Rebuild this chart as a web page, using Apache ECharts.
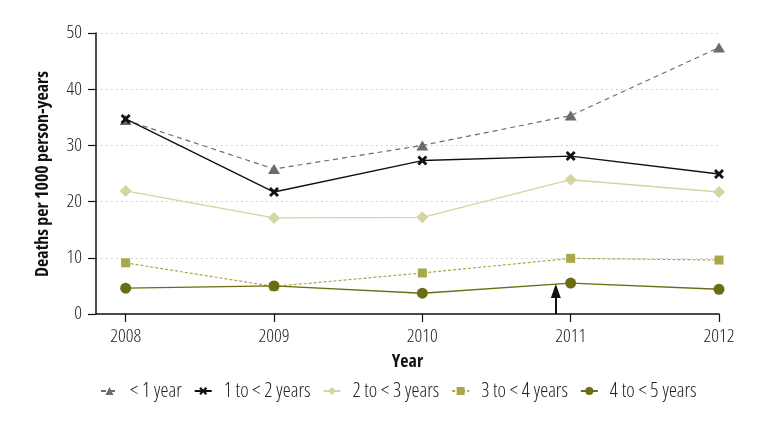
<!DOCTYPE html>
<html><head><meta charset="utf-8">
<script src="https://cdn.jsdelivr.net/npm/echarts@6/dist/echarts.min.js"></script>
<style>html,body{margin:0;padding:0;background:#fff}#c{width:771px;height:423px}</style>
</head><body><div id="c"></div>
<script>
const years = [2008, 2009, 2010, 2011, 2012];
const lt1 = [34.5, 25.8, 30.0, 35.3, 47.4];
const y1to2 = [34.7, 21.7, 27.3, 28.1, 24.9];
const y2to3 = [21.9, 17.1, 17.2, 23.9, 21.7];
const y3to4 = [9.1, 4.9, 7.3, 9.9, 9.6];
const y4to5 = [4.6, 5.0, 3.7, 5.5, 4.4];
const arrowAt = [2010.9, 0, 4.1]; // x, from y, to y
const yTitle = 'Deaths per 1000 person-years';
const xTitle = 'Year';

const FONT = '"Open Sans","DejaVu Sans Condensed",sans-serif';
const COND = 'condensed';
const xPath = 'path://M2,0 L5,3 L8,0 L10,2 L7,5 L10,8 L8,10 L5,7 L2,10 L0,8 L3,5 L0,2 Z';

function mk(name, vals, color, symbol, size, dash, width) {
  return {
    name, type: 'line', data: years.map((y, i) => [y, vals[i]]),
    symbol, symbolSize: size,
    lineStyle: { color, width: width || 1.3, type: dash || 'solid' },
    itemStyle: { color },
    z: 3
  };
}

const chart = echarts.init(document.getElementById('c'), null, { renderer: 'canvas' });
const series = [
  mk('< 1 year', lt1, '#6c6c6c', 'triangle', [12, 10], [5, 4], 1.2),
  mk('1 to < 2 years', y1to2, '#111111', xPath, 10, null, 1.4),
  mk('2 to < 3 years', y2to3, '#d4d5a0', 'diamond', 12, null, 1.4),
  mk('3 to < 4 years', y3to4, '#a8a84b', 'rect', 9, [3, 2], 1.2),
  mk('4 to < 5 years', y4to5, '#6c6c12', 'circle', 11, null, 1.4)
];
series.push({
  type: 'line', data: [], silent: true,
  markLine: {
    silent: true, symbol: ['none', 'triangle'], symbolSize: [10, 14],
    label: { show: false },
    lineStyle: { color: '#111', width: 2, type: 'solid' },
    data: [[{ coord: [arrowAt[0], arrowAt[1]] }, { coord: [arrowAt[0], arrowAt[2]] }]]
  }
});

chart.setOption({
  animation: false,
  textStyle: { fontFamily: FONT },
  grid: { left: 96, right: 52, top: 33, bottom: 109 },
  graphic: [{
    type: 'text', x: 43, y: 277, rotation: Math.PI / 2,
    style: {
      text: yTitle, font: 'condensed bold 18px ' + FONT, fill: '#111',
      align: 'left', verticalAlign: 'middle'
    }
  }],
  legend: {
    top: 381, left: 100, padding: 0, itemWidth: 17, itemHeight: 10, itemGap: 12,
    textStyle: { fontFamily: FONT, fontStyle: COND, fontWeight: 300, fontSize: 20, color: '#222', padding: [0, 0, 0, 7] },
    data: series.slice(0, 5).map(s => s.name)
  },
  xAxis: {
    type: 'value', min: 2007.8, max: 2012,
    name: xTitle, nameLocation: 'middle', nameGap: 39,
    nameTextStyle: { fontFamily: FONT, fontStyle: COND, fontSize: 18, fontWeight: 'bold', color: '#111' },
    axisLine: { show: true, lineStyle: { color: '#111', width: 1.5 } },
    axisTick: { show: true, customValues: years, length: 8, lineStyle: { color: '#111', width: 1.2 } },
    axisLabel: { customValues: years, fontFamily: FONT, fontStyle: COND, fontWeight: 300, fontSize: 19, color: '#222', margin: 13, formatter: v => String(v) },
    splitLine: { show: false }
  },
  yAxis: {
    type: 'value', min: 0, max: 50, interval: 10,
    axisLine: { show: true, lineStyle: { color: '#111', width: 1.5 } },
    axisTick: { show: true, length: 8, lineStyle: { color: '#111', width: 1.2 } },
    axisLabel: { fontFamily: FONT, fontStyle: COND, fontWeight: 300, fontSize: 19, color: '#222', margin: 14 },
    splitLine: { show: true, lineStyle: { color: '#c8c8c8', type: [1.5, 3.5], width: 1.2 } }
  },
  series
});
</script></body></html>
